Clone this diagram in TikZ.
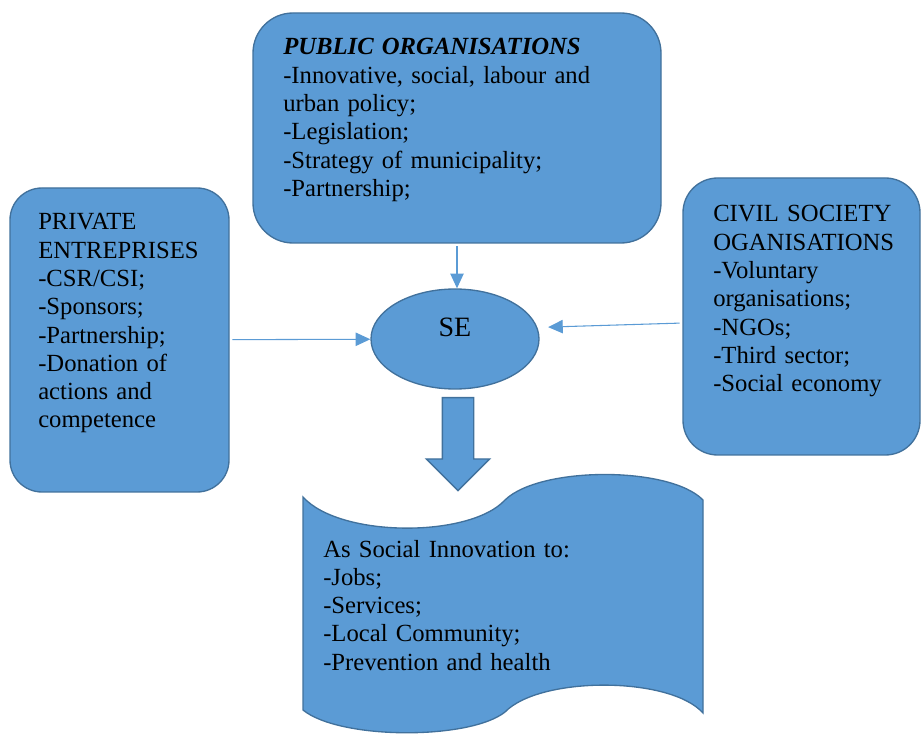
\documentclass[tikz,border=0pt]{standalone}
\usepackage{fontspec}
\setmainfont{Liberation Serif}
\usetikzlibrary{arrows.meta,shapes.geometric,shapes.arrows}

\definecolor{boxblue}{HTML}{5B9BD5}
\definecolor{boxline}{HTML}{41719C}

\begin{document}
\begin{tikzpicture}[
    x=0.75pt, y=-0.75pt,
    group/.style={
      rectangle,
      rounded corners=#1,
      draw=boxline,
      fill=boxblue,
      line width=1pt,
      inner sep=0pt
    },
    group/.default=26pt,
    entry/.style={
      anchor=base west,
      inner sep=0pt,
      text width=300pt,
      align=left,
      font=\fontsize{18.5}{21.2}\selectfont
    },
    link/.style={
      -{Triangle[length=11pt,width=10pt]},
      draw=boxblue,
      line width=0.8pt,
      shorten <=2pt
    }
  ]
    \useasboundingbox (0,0) rectangle (922,734);

    % the three groups of actors
    \node[group=30pt, minimum width=306pt, minimum height=172.5pt] (pub) at (457,128) {};
    \node[group=24pt, minimum width=164.25pt, minimum height=228pt] (priv) at (119.5,340) {};
    \node[group=26pt, minimum width=177.75pt, minimum height=207.75pt] (civ) at (801.5,316.5) {};

    % social enterprise in the middle
    \node[ellipse, draw=boxline, fill=boxblue, line width=1pt,
          minimum width=126pt, minimum height=75pt, inner sep=0pt] (se) at (455,339) {};
    \node[anchor=base, inner sep=0pt, font=\fontsize{21}{25}\selectfont] (selabel) at (455,337) {SE};

    % outcome, a wavy banner
    \draw[draw=boxline, fill=boxblue, line width=1pt]
      (303,497) .. controls (340,538) and (470,538) .. (505,500)
                .. controls (540,466) and (670,466) .. (703,500)
      -- (703,713) .. controls (670,676) and (540,676) .. (505,712)
                   .. controls (470,740) and (340,740) .. (303,710) -- cycle;
    \node[single arrow, draw=boxline, fill=boxblue, line width=1pt, rotate=-90,
          minimum height=69.75pt, single arrow head extend=12pt,
          inner xsep=0pt, inner ysep=11.25pt, anchor=tail] (down) at (458,397) {};

    \draw[link] (pub.south) -- (pub.south |- se.north);
    \draw[link] (priv) -- (se);
    \draw[link, shorten >=8pt] ([yshift=-4.9pt]civ.west) -- (se.8);

    \node[entry] (pubtext) at (283,55) {\textbf{\textit{PUBLIC ORGANISATIONS}}\\-Innovative, social, labour and\\urban policy;\\-Legislation;\\-Strategy of municipality;\\-Partnership;};
    \node[entry] (privtext) at (38,230) {PRIVATE\\ENTREPRISES\\-CSR/CSI;\\-Sponsors;\\-Partnership;\\-Donation of\\actions and\\competence};
    \node[entry] (civtext) at (713,222) {CIVIL SOCIETY\\OGANISATIONS\\-Voluntary\\organisations;\\-NGOs;\\-Third sector;\\-Social economy};
    \node[entry] (outtext) at (323,557) {As Social Innovation to:\\-Jobs;\\-Services;\\-Local Community;\\-Prevention and health};
  \end{tikzpicture}
\end{document}
